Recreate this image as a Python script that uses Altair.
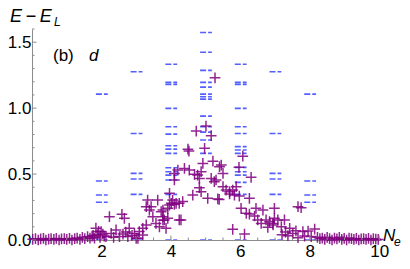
import altair as alt
import pandas as pd

# ---------------- data ----------------
# blue energy levels (E - E_L) at integer electron numbers N_e
level_ns = [0, 1, 2, 3, 4, 5, 6, 7, 8, 9, 10]
levels_0 = [0.0]
levels_1 = [0.0]
levels_2 = [0.0, 0.286, 0.341, 0.447, 1.106]
levels_3 = [0.0, 0.346, 0.462, 0.505, 0.808, 1.276]
levels_4 = [0.0, 0.346, 0.455, 0.492, 0.518, 0.548, 0.657, 0.689, 0.715, 0.803, 0.859, 0.998, 1.18, 1.195, 1.333]
levels_5 = [0.0, 0.657, 0.758, 0.818, 0.859, 0.939, 1.068, 1.086, 1.106, 1.159, 1.195, 1.286, 1.424, 1.573]
levels_6 = [0.0, 0.346, 0.437, 0.492, 0.518, 0.551, 0.657, 0.682, 0.708, 0.808, 0.859, 0.998, 1.18, 1.195, 1.333]
levels_7 = [0.0, 0.346, 0.462, 0.505, 0.808, 1.276]
levels_8 = [0.0, 0.286, 0.341, 0.447, 1.106]
levels_9 = [0.0]
levels_10 = [0.0]
level_lists = [levels_0, levels_1, levels_2, levels_3, levels_4, levels_5,
               levels_6, levels_7, levels_8, levels_9, levels_10]

# purple "+" points (N_e, E - E_L)
pts_ne = [
    0.02, 0.10, 0.18, 0.25, 0.33, 0.40, 0.48, 0.55, 0.63, 0.70, 0.78, 0.85, 0.93, 1.00,
    1.08, 1.15, 1.23, 1.30, 1.38, 1.45, 1.52, 1.60, 1.67, 1.73,
    1.76, 1.80, 1.84, 1.88, 1.92, 1.96, 1.99, 2.04, 2.08, 2.13,
    2.23, 2.59, 2.66, 3.33, 3.62, 3.29, 3.38, 3.72, 3.77, 3.48, 3.57, 3.67, 3.29, 3.19,
    2.80, 2.95, 3.09, 2.42, 2.28, 2.52, 2.76, 3.19, 3.05, 2.35, 2.62, 2.70, 2.88, 3.00,
    3.43, 3.81, 3.91, 3.96, 4.05, 4.15, 4.29,
    4.73, 5.16, 4.97, 4.49, 4.52, 4.92, 5.21, 5.40, 4.20, 4.39, 4.53, 4.68, 4.77, 4.87,
    4.10, 4.10, 4.82, 5.16, 5.25, 4.82, 4.63, 5.06, 5.35, 4.01, 4.10, 4.24, 4.34, 3.96,
    3.77, 3.77, 3.91, 4.24, 3.86, 4.87,
    5.27, 5.01,
    6.07, 5.96, 5.45, 5.50, 5.30, 6.31, 5.88, 5.50, 5.59, 5.69, 5.69, 5.78, 5.97, 5.39,
    6.26, 6.02, 6.17, 6.26, 6.41, 6.65, 6.50, 6.60, 6.74, 6.84, 6.79, 6.94, 6.98, 5.78,
    6.12, 6.45, 5.83,
    7.66, 7.75, 6.98, 7.08, 7.27, 6.94, 7.18, 7.42, 7.51, 7.37, 7.80, 7.95, 8.14, 8.04,
    7.66, 7.30, 7.60, 7.85, 7.20,
    8.22, 8.29, 8.36, 8.43, 8.50, 8.57, 8.64, 8.71, 8.78, 8.85, 8.92, 8.99, 9.06, 9.13,
    9.20, 9.27, 9.34, 9.41, 9.48, 9.55, 9.62, 9.69, 9.76, 9.83, 9.90, 9.97,
]
pts_e = [
    0.005, 0.010, 0.000, 0.008, 0.012, 0.000, 0.006, 0.010, 0.004, 0.012, 0.000, 0.008, 0.010, 0.005,
    0.012, 0.000, 0.010, 0.015, 0.005, 0.020, 0.010, 0.025, 0.015, 0.030,
    0.035, 0.015, 0.090, 0.040, 0.065, 0.020, 0.064, 0.045, 0.030, 0.026,
    0.177, 0.195, 0.164, 0.303, 0.303, 0.253, 0.227, 0.215, 0.150, 0.177, 0.126, 0.100, 0.114, 0.089,
    0.089, 0.050, 0.064, 0.076, 0.050, 0.026, 0.026, 0.038, 0.013, 0.020, 0.045, 0.060, 0.035, 0.013,
    0.253, 0.152, 0.240, 0.354, 0.303, 0.278, 0.152,
    0.826, 0.791, 0.695, 0.689, 0.674, 0.581, 0.598, 0.556, 0.530, 0.543, 0.530, 0.498, 0.492, 0.518,
    0.505, 0.455, 0.467, 0.467, 0.442, 0.397, 0.341, 0.316, 0.311, 0.278, 0.270, 0.278, 0.291, 0.265,
    0.227, 0.177, 0.164, 0.152, 0.089, 0.366,
    1.230, 0.864,
    0.636, 0.551, 0.568, 0.505, 0.455, 0.475, 0.404, 0.404, 0.379, 0.366, 0.349, 0.379, 0.333, 0.308,
    0.316, 0.240, 0.202, 0.197, 0.182, 0.227, 0.152, 0.126, 0.152, 0.139, 0.096, 0.126, 0.240, 0.081,
    0.045, 0.240, 0.341,
    0.253, 0.245, 0.164, 0.152, 0.152, 0.114, 0.101, 0.089, 0.050, 0.033, 0.064, 0.068, 0.083, 0.026,
    0.018, 0.060, 0.070, 0.030, 0.040,
    0.020, 0.010, 0.015, 0.005, 0.020, 0.010, 0.000, 0.015, 0.008, 0.020, 0.005, 0.012, 0.000, 0.015,
    0.010, 0.004, 0.012, 0.000, 0.008, 0.010, 0.005, 0.012, 0.000, 0.010, 0.006, 0.004,
]

# axis ticks
x_major = [2, 4, 6, 8, 10]
x_minor = [0.5, 1, 1.5, 2.5, 3, 3.5, 4.5, 5, 5.5, 6.5, 7, 7.5, 8.5, 9, 9.5]
y_major = [0.0, 0.5, 1.0, 1.5]
y_minor = [0.1, 0.2, 0.3, 0.4, 0.6, 0.7, 0.8, 0.9, 1.1, 1.2, 1.3, 1.4, 1.6]

# ---------------- build ----------------
W, H = 349, 211
xs = alt.Scale(domain=[0, 10.05], nice=False, zero=False)
ys = alt.Scale(domain=[0, 1.6], nice=False, zero=False)
GRAY = "#8c8c8c"
FONT = "Liberation Sans"

lev_rows = [{"n": n, "e": e} for n, vals in zip(level_ns, level_lists) for e in vals]
lev_df = pd.DataFrame(lev_rows)
pts_df = pd.DataFrame({"ne": pts_ne, "e": pts_e})

levels = alt.Chart(lev_df).transform_calculate(
    x1="datum.n - 0.16", x2="datum.n + 0.18"
).mark_rule(color="#1a2aff", strokeWidth=1.6, strokeDash=[6, 2], opacity=0.75, clip=True).encode(
    x=alt.X("x1:Q", scale=xs,
            axis=alt.Axis(values=x_major, format="d", ticks=False, grid=False, title=None,
                          domainColor=GRAY, labelFontSize=17, labelFont=FONT, labelColor="black",
                          labelPadding=3)),
    x2="x2:Q",
    y=alt.Y("e:Q", scale=ys,
            axis=alt.Axis(values=y_major, format=".1f", ticks=False, grid=False, title=None,
                          domainColor=GRAY, labelFontSize=17, labelFont=FONT, labelColor="black",
                          labelPadding=1)),
)

plus = alt.Chart(pts_df).mark_point(
    shape="M-1,0L1,0M0,-1L0,1", size=115, filled=False, color="#800080",
    strokeWidth=1.5, opacity=0.85
).encode(
    x=alt.X("ne:Q", scale=xs),
    y=alt.Y("e:Q", scale=ys),
)

def yticks(vals, length):
    return alt.Chart(pd.DataFrame({"v": vals})).mark_rule(color=GRAY, strokeWidth=1).encode(
        x=alt.value(0), x2=alt.value(length), y=alt.Y("v:Q", scale=ys))

def xticks(vals, length):
    return alt.Chart(pd.DataFrame({"v": vals})).mark_rule(color=GRAY, strokeWidth=1).encode(
        y=alt.value(H), y2=alt.value(H - length), x=alt.X("v:Q", scale=xs))

def label(text, x, y, size, italic=False):
    return alt.Chart(pd.DataFrame({"t": [text]})).mark_text(
        font=FONT, fontSize=size, fontStyle="italic" if italic else "normal",
        align="left", baseline="alphabetic", color="black"
    ).encode(text="t:N", x=alt.value(x), y=alt.value(y))

chart = alt.layer(
    levels,
    plus,
    yticks(y_major, 4.5), yticks(y_minor, 2.5),
    xticks(x_major, 4.5), xticks(x_minor, 2.5),
    label("E\u2009\u2212\u2009E", -22, -7, 18, True),
    label("L", 22, -3, 12, True),
    label("(b)", 21, 32, 17),
    label("d", 57, 32, 17, True),
    label("N", 351, 212, 17, True),
    label("e", 362, 217, 12, True),
).properties(
    width=W, height=H,
    autosize=alt.AutoSizeParams(type="none"),
    padding={"left": 24, "top": 21, "right": 21, "bottom": 21},
).configure_view(stroke=None)

chart.save("out.html", embed_options={"renderer": "svg", "actions": False})
